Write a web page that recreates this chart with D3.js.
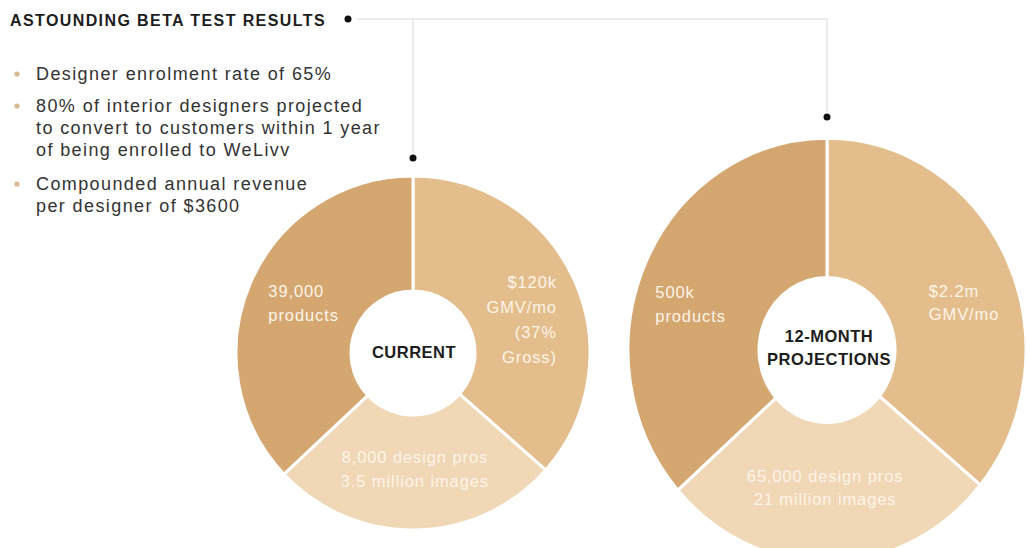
<!DOCTYPE html>
<html>
<head>
<meta charset="utf-8">
<script src="https://cdn.jsdelivr.net/npm/d3@7"></script>
<style>
  body { margin: 0; background: #fff; }
  svg { display: block; font-family: "Liberation Sans", Arial, Helvetica, sans-serif; }
</style>
</head>
<body>
<div id="chart"></div>
<script>
// --- data ---
const title = "ASTOUNDING BETA TEST RESULTS";
const bullets = [
  ["Designer enrolment rate of 65%"],
  ["80% of interior designers projected", "to convert to customers within 1 year", "of being enrolled to WeLivv"],
  ["Compounded annual revenue", "per designer of $3600"]
];

// slice order: GMV (right), design pros (bottom), products (left)
const currentShares = [36.5, 26.5, 37];
const currentLabels = [
  ["$120k", "GMV/mo", "(37%", "Gross)"],
  ["8,000 design pros", "3.5 million images"],
  ["39,000", "products"]
];
const currentCenter = ["CURRENT"];

const projectionShares = [36, 27.5, 36.5];
const projectionLabels = [
  ["$2.2m", "GMV/mo"],
  ["65,000 design pros", "21 million images"],
  ["500k", "products"]
];
const projectionCenter = ["12-MONTH", "PROJECTIONS"];

const sliceColors = ["#e3be8c", "#f0d7b6", "#d4a670"];

// --- layout ---
const width = 1026;
const height = 548;

const svg = d3.select("#chart").append("svg")
  .attr("width", width)
  .attr("height", height);

// connector lines
const lines = svg.append("g")
  .attr("stroke", "#e6e6e6")
  .attr("stroke-width", 1.5)
  .attr("fill", "none");
lines.append("path").attr("d", "M357,19H827V112");
lines.append("path").attr("d", "M413,19V153");

svg.append("circle").attr("cx", 348).attr("cy", 19).attr("r", 3.5).attr("fill", "#111");
svg.append("circle").attr("cx", 413).attr("cy", 158).attr("r", 3.5).attr("fill", "#111");
svg.append("circle").attr("cx", 827).attr("cy", 117).attr("r", 3.5).attr("fill", "#111");

// title + bullets
svg.append("text")
  .attr("x", 10).attr("y", 26)
  .attr("font-size", 16).attr("font-weight", "bold")
  .attr("letter-spacing", 1.4)
  .attr("fill", "#1d1d1d")
  .text(title);

const bulletTop = [80, 112, 190];
const bulletLine = 22;
const bulletG = svg.append("g").selectAll("g")
  .data(bullets)
  .join("g");

bulletG.append("circle")
  .attr("cx", 17)
  .attr("cy", (d, i) => bulletTop[i] - 6)
  .attr("r", 2.6)
  .attr("fill", "#d9b78f");

bulletG.append("text")
  .attr("font-size", 18)
  .attr("letter-spacing", 1.4)
  .attr("fill", "#333")
  .selectAll("tspan")
  .data((d, i) => d.map((t, j) => ({ t, y: bulletTop[i] + j * bulletLine })))
  .join("tspan")
  .attr("x", 36)
  .attr("y", d => d.y)
  .text(d => d.t);

// donuts
function drawDonut(opts) {
  const pie = d3.pie().sort(null).value(d => d).startAngle(0).endAngle(2 * Math.PI);
  const arcs = pie(opts.shares);
  const arc = d3.arc().innerRadius(opts.inner).outerRadius(opts.outer);

  const g = svg.append("g");
  g.append("g")
    .attr("transform", `translate(${opts.cx},${opts.cy}) scale(1,${opts.ky})`)
    .selectAll("path")
    .data(arcs)
    .join("path")
    .attr("d", arc)
    .attr("fill", (d, i) => sliceColors[i])
    .attr("stroke", "#fff")
    .attr("stroke-width", 3);

  // slice labels placed off the arc centroid
  const labels = g.append("g")
    .attr("font-size", 16.5)
    .attr("letter-spacing", 0.9)
    .attr("fill", "#fdf4e8");

  arcs.forEach((a, i) => {
    const c = arc.centroid(a);
    const p = opts.place[i];
    const x = opts.cx + c[0] + p.dx;
    const y = opts.cy + c[1] * opts.ky + p.dy;
    labels.append("text")
      .attr("text-anchor", p.anchor)
      .selectAll("tspan")
      .data(opts.labels[i])
      .join("tspan")
      .attr("x", x)
      .attr("y", (d, j) => y + j * p.lh)
      .text(d => d);
  });

  g.append("text")
    .attr("text-anchor", "middle")
    .attr("font-size", 16.5)
    .attr("font-weight", "bold")
    .attr("letter-spacing", 0.5)
    .attr("fill", "#1d1d1d")
    .selectAll("tspan")
    .data(opts.center)
    .join("tspan")
    .attr("x", opts.cx + opts.centerDx)
    .attr("y", (d, j) => opts.centerY + j * 23)
    .text(d => d);
}

drawDonut({
  shares: currentShares,
  labels: currentLabels,
  center: currentCenter,
  cx: 413, cy: 353, ky: 1,
  inner: 62, outer: 177,
  centerDx: 1, centerY: 358,
  place: [
    { dx: 35, dy: -16, anchor: "end", lh: 25 },
    { dx: 0, dy: -9.5, anchor: "middle", lh: 24 },
    { dx: -35, dy: -8.5, anchor: "start", lh: 24 }
  ]
});

drawDonut({
  shares: projectionShares,
  labels: projectionLabels,
  center: projectionCenter,
  cx: 827, cy: 350, ky: 1.065,
  inner: 68, outer: 199,
  centerDx: 2, centerY: 342,
  place: [
    { dx: -19, dy: 7.6, anchor: "start", lh: 23 },
    { dx: -4, dy: -10, anchor: "middle", lh: 23 },
    { dx: -50, dy: 6.6, anchor: "start", lh: 24 }
  ]
});
</script>
</body>
</html>
